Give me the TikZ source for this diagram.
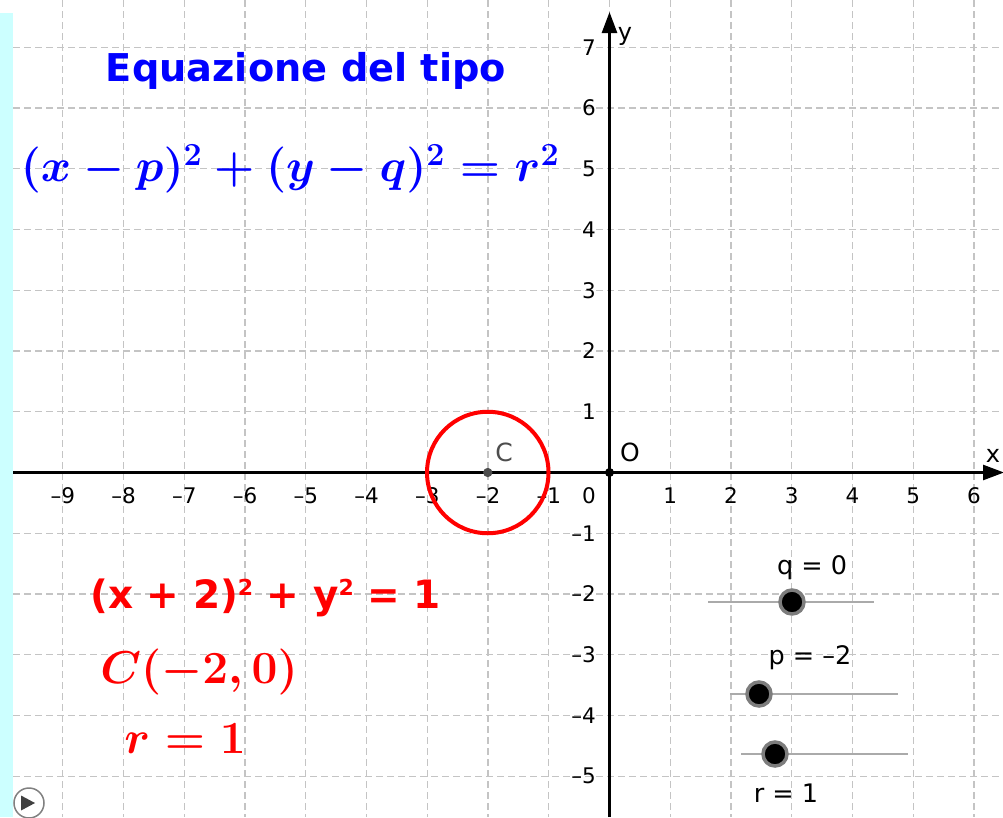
\RequirePackage{fix-cm}
\documentclass[tikz,border=0pt]{standalone}
\usepackage{fontspec}
\usetikzlibrary{arrows.meta}
\newfontfamily\ggsans{DejaVu Sans}
\definecolor{gridgray}{RGB}{196,196,196}
\definecolor{bgcyan}{RGB}{204,255,255}
\definecolor{ggblue}{RGB}{0,0,255}
\definecolor{ggred}{RGB}{255,0,0}
\definecolor{ptgray}{RGB}{77,77,77}
\definecolor{slidergray}{RGB}{170,170,170}
\definecolor{knobring}{RGB}{125,125,125}
\newcommand{\genformula}{\mbox{\boldmath$(x-p)^{2}+(y-q)^{2}=r^{2}$}}
\newcommand{\centerformula}{\mbox{\boldmath$C(-2,0)$}}
\newcommand{\radformula}{\mbox{\boldmath$r=1$}}
\newcommand{\suptwo}{\raisebox{13pt}{\fontsize{22}{22}\selectfont 2}}
\begin{document}
\begin{tikzpicture}[x=1pt,y=-1pt,
  gridline/.style={gridgray,line width=1.3pt,dash pattern=on 7pt off 4pt},
  axisline/.style={black,line width=2.6pt},
  axistip/.style={-{Triangle[length=21pt,width=15pt]}},
  ticklbl/.style={font=\ggsans\fontsize{21.5}{25}\selectfont,inner sep=0pt,text=black},
  axislbl/.style={font=\ggsans\fontsize{24}{28}\selectfont,inner sep=0pt},
  ptlbl/.style={font=\ggsans\fontsize{25}{30}\selectfont,inner sep=0pt},
  sliderlbl/.style={font=\ggsans\fontsize{25.5}{30}\selectfont,inner sep=0pt},
  sliderline/.style={slidergray,line width=1.8pt},
  knob/.style={circle,fill=black,draw=knobring,line width=3.5pt,minimum size=24pt,inner sep=0pt},
  dotpt/.style={circle,inner sep=0pt,minimum size=9pt},
  bluemath/.style={text=ggblue,font=\fontsize{46}{55}\selectfont,inner sep=0pt},
  redmath/.style={text=ggred,font=\fontsize{46}{55}\selectfont,inner sep=0pt},
  redsans/.style={text=ggred,font=\ggsans\bfseries\fontsize{39}{45}\selectfont,inner sep=0pt},
  titletext/.style={text=ggblue,font=\ggsans\bfseries\fontsize{38.3}{46}\selectfont,inner sep=0pt},
]
\useasboundingbox (0,0) rectangle (1003,817);
\fill[white] (0,0) rectangle (1003,817);
\fill[bgcyan] (0,13) rectangle (13,817);
% grid
\foreach \k in {-9,...,6}
  \draw[gridline] ({609.5+\k*60.75},0) -- ({609.5+\k*60.75},817);
\foreach \k in {-5,...,7}
  \draw[gridline] (13,{472.5-\k*60.75}) -- (1003,{472.5-\k*60.75});
% axes
\coordinate (xstart) at (13,472.5);
\coordinate (xend) at (1004,472.5);
\coordinate (ystart) at (609.5,817);
\coordinate (yend) at (609.5,12);
\draw[axisline,axistip] (xstart) -- (xend);
\draw[axisline,axistip] (ystart) -- (yend);
\node[axislbl] (xlab) at (993,456) {x};
\node[axislbl] (ylab) at (625,36) {y};
% tick labels
\foreach \k in {1,...,9}
  \node[ticklbl] (xn\k) at ({609.5-\k*60.75},496) {–\k};
\foreach \k in {1,...,6}
  \node[ticklbl] (xp\k) at ({609.5+\k*60.75},496) {\k};
\node[ticklbl] (zero) at (589,496) {0};
\foreach \k in {1,...,7}
  \node[ticklbl,anchor=east] (yp\k) at (596,{472.5-\k*60.75}) {\k};
\foreach \k in {1,...,5}
  \node[ticklbl,anchor=east] (yn\k) at (596,{472.5+\k*60.75}) {–\k};
% circle and points
\node[dotpt,fill=ptgray] (C) at (487.75,472.5) {};
\draw[ggred,line width=4pt] (C.center) circle[radius=60.75];
\node[dotpt,fill=ptgray] (Cdot) at (C.center) {};
\node[dotpt,fill=black] (O) at (609.5,472.5) {};
\node[ptlbl,text=ptgray] (Clab) at (504,452) {C};
\node[ptlbl,text=black] (Olab) at (630,452) {O};
% texts
\node[titletext] (title) at (306,71) {Equazione del tipo};
\node[bluemath] (gen) at (290,169) {\genformula};
\node[redsans,anchor=base west] (eqc) at (90,608) {(x + 2)\suptwo{} + y\suptwo{} = 1};
\node[redmath] (cen) at (199,672) {\centerformula};
\node[redmath] (rad) at (185,739) {\radformula};
% sliders
\coordinate (qa) at (708,602); \coordinate (qb) at (874,602);
\coordinate (pa) at (730,694); \coordinate (pb) at (898,694);
\coordinate (ra) at (741,754); \coordinate (rb) at (908,754);
\draw[sliderline] (qa) -- (qb);
\draw[sliderline] (pa) -- (pb);
\draw[sliderline] (ra) -- (rb);
\node[knob] (qk) at (792,602) {};
\node[knob] (pk) at (759,694) {};
\node[knob] (rk) at (775,754) {};
\node[sliderlbl] (ql) at (812,568) {q = 0};
\node[sliderlbl] (pl) at (810,658) {p = –2};
\node[sliderlbl] (rl) at (786,793) {r = 1};
% play button
\node[circle,draw=gray,line width=1.5pt,fill=white,minimum size=30pt,inner sep=0pt] (play) at (29,803) {};
\fill[darkgray] ([shift={(-8,-7.5)}]play.center) -- ([shift={(-8,7.5)}]play.center) -- ([shift={(6,0)}]play.center) -- cycle;
\end{tikzpicture}
\end{document}
